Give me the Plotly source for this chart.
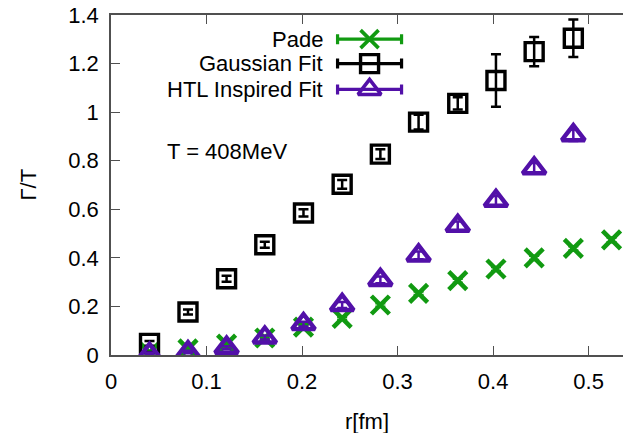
import plotly.graph_objects as go

# ---------------- data ----------------
r_pade = [0.0403, 0.0806, 0.121, 0.161, 0.2015, 0.242, 0.282, 0.322, 0.363, 0.403, 0.443, 0.484, 0.524]
g_pade = [0.01, 0.025, 0.045, 0.07, 0.115, 0.151, 0.206, 0.254, 0.306, 0.354, 0.400, 0.439, 0.474]
e_pade = [0.004, 0.004, 0.005, 0.005, 0.006, 0.006, 0.007, 0.007, 0.008, 0.008, 0.009, 0.009, 0.010]

r_gauss = [0.0403, 0.0806, 0.121, 0.161, 0.2015, 0.242, 0.282, 0.322, 0.363, 0.403, 0.443, 0.484]
g_gauss = [0.048, 0.177, 0.314, 0.454, 0.585, 0.703, 0.827, 0.959, 1.036, 1.130, 1.249, 1.304]
e_gauss = [0.010, 0.010, 0.012, 0.012, 0.015, 0.018, 0.020, 0.030, 0.025, 0.108, 0.060, 0.077]

r_htl = [0.0403, 0.0806, 0.121, 0.161, 0.2015, 0.242, 0.282, 0.322, 0.363, 0.403, 0.443, 0.484]
g_htl = [0.005, 0.012, 0.030, 0.072, 0.127, 0.206, 0.309, 0.410, 0.532, 0.635, 0.769, 0.905]
e_htl = [0.005, 0.005, 0.006, 0.008, 0.010, 0.012, 0.014, 0.016, 0.018, 0.020, 0.022, 0.024]

series_names = ["Pade", "Gaussian Fit", "HTL Inspired Fit"]
x_ticks = [0, 0.1, 0.2, 0.3, 0.4, 0.5]
y_ticks = [0, 0.2, 0.4, 0.6, 0.8, 1, 1.2, 1.4]
x_title = "r[fm]"
y_title = "Γ/T"
label_text = "T = 408MeV"

# ---------------- styles ----------------
GREEN = "#119a11"
BLACK = "#000000"
PURPLE = "#5210a8"
AXC = "#505050"
FONT = "Liberation Sans, Arial, sans-serif"
FS = 22

styles = [
    dict(color=GREEN, symbol="x-thin-open", size=18, lw=4.5),
    dict(color=BLACK, symbol="square-open", size=18, lw=3.4),
    dict(color=PURPLE, symbol="triangle-up-open", size=20, lw=4.4),
]

fig = go.Figure()

data = [(r_pade, g_pade, e_pade), (r_gauss, g_gauss, e_gauss), (r_htl, g_htl, e_htl)]
for (xs, ys, es), st, name in zip(data, styles, series_names):
    fig.add_trace(go.Scatter(
        x=xs, y=ys, mode="markers", name=name, showlegend=False,
        marker=dict(symbol=st["symbol"], size=st["size"], color=st["color"],
                    line=dict(color=st["color"], width=st["lw"])),
        error_y=dict(type="data", array=es, visible=True, color=st["color"],
                     thickness=2.5, width=5),
    ))

# ---------------- manual legend (text left, key right) ----------------
leg_y = [0.929, 0.857, 0.781]
leg_x = 0.505
for name, st, yy in zip(series_names, styles, leg_y):
    fig.add_trace(go.Scatter(
        x=[leg_x], y=[yy], xaxis="x2", yaxis="y2", mode="markers", showlegend=False,
        hoverinfo="skip",
        marker=dict(symbol=st["symbol"], size=st["size"], color=st["color"],
                    line=dict(color=st["color"], width=min(st["lw"], 3.6))),
        error_x=dict(type="constant", value=0.0625, visible=True, color=st["color"],
                     thickness=3.2, width=5),
    ))
    fig.add_annotation(x=0.4185, y=yy, xref="x2", yref="y2", text=name,
                       showarrow=False, xanchor="right", yanchor="middle",
                       font=dict(family=FONT, size=FS, color="black"))

fig.add_annotation(x=0.106, y=0.598, xref="x2", yref="y2", text=label_text,
                   showarrow=False, xanchor="left", yanchor="middle",
                   font=dict(family=FONT, size=FS, color="black"))

# axis titles as annotations (paper coords relative to plot area)
fig.add_annotation(x=0.5, y=-0.195, xref="paper", yref="paper", text=x_title,
                   showarrow=False, xanchor="center", yanchor="middle",
                   font=dict(family=FONT, size=FS, color="black"))
fig.add_annotation(x=-0.163, y=0.5, xref="paper", yref="paper", text=y_title,
                   showarrow=False, xanchor="center", yanchor="middle", textangle=-90,
                   font=dict(family=FONT, size=FS, color="black"))

fig.update_layout(
    width=623, height=433,
    margin=dict(l=111, r=0, t=15, b=78, autoexpand=False),
    paper_bgcolor="white", plot_bgcolor="white",
    font=dict(family=FONT, size=FS, color="black"),
    xaxis=dict(range=[0, 0.536], tickvals=x_ticks, ticks="inside", ticklen=9,
               tickcolor=AXC, tickwidth=1.2, showline=True, linecolor=AXC, linewidth=1.5,
               mirror="ticks", showgrid=False, zeroline=False, automargin=False,
               ticklabelstandoff=6),
    yaxis=dict(range=[0, 1.4], tickvals=y_ticks, ticks="inside", ticklen=9,
               tickcolor=AXC, tickwidth=1.2, showline=True, linecolor=AXC, linewidth=1.5,
               mirror=False, showgrid=False, zeroline=False, automargin=False,
               ticklabelstandoff=6),
    xaxis2=dict(range=[0, 1], overlaying="x", visible=False, fixedrange=True),
    yaxis2=dict(range=[0, 1], overlaying="y", visible=False, fixedrange=True),
)

fig.write_html("out.html", config={"displayModeBar": False},
               post_script="document.body.style.margin='0';document.body.style.overflow='hidden';")
